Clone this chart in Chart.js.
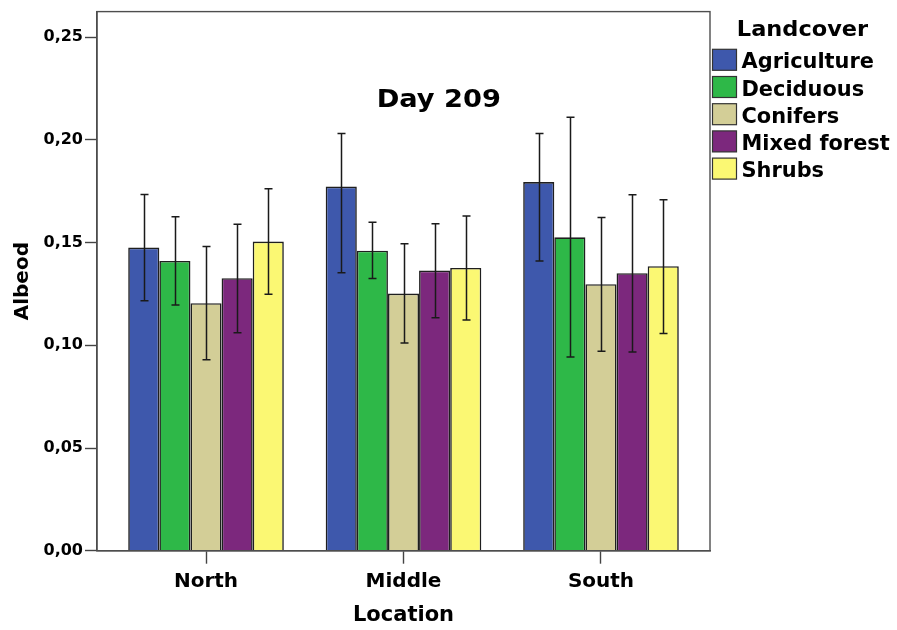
<!DOCTYPE html>
<html>
<head>
<meta charset="utf-8">
<script src="https://cdn.jsdelivr.net/npm/chart.js@4"></script>
<style>
  html, body { margin: 0; padding: 0; background: #ffffff; }
  #wrap { width: 897px; height: 630px; }
</style>
</head>
<body>
<div id="wrap"><canvas id="c" width="897" height="630"></canvas></div>
<script>
// ---------- data ----------
const categories = ['North', 'Middle', 'South'];
const seriesNames = ['Agriculture', 'Deciduous', 'Conifers', 'Mixed forest', 'Shrubs'];
const seriesColors = ['#3e58ac', '#2eb848', '#d3ce97', '#7c287d', '#fbf873'];

const agriculture = [0.1476, 0.1773, 0.1795];
const deciduous   = [0.1411, 0.1461, 0.1526];
const conifers    = [0.1205, 0.1252, 0.1298];
const mixedForest = [0.1327, 0.1364, 0.1351];
const shrubs      = [0.1505, 0.1377, 0.1385];

const agricultureLow  = [0.1217, 0.1354, 0.1411];
const agricultureHigh = [0.1735, 0.2031, 0.2031];
const deciduousLow    = [0.1196, 0.1325, 0.0943];
const deciduousHigh   = [0.1626, 0.1599, 0.2110];
const conifersLow     = [0.0930, 0.1011, 0.0971];
const conifersHigh    = [0.1481, 0.1495, 0.1623];
const mixedForestLow  = [0.1061, 0.1134, 0.0968];
const mixedForestHigh = [0.1589, 0.1592, 0.1733];
const shrubsLow       = [0.1249, 0.1123, 0.1058];
const shrubsHigh      = [0.1762, 0.1630, 0.1709];

const yTickValues = [0, 0.05, 0.10, 0.15, 0.20, 0.25];
const chartTitle = 'Day 209';
const legendTitle = 'Landcover';
const xTitle = 'Location';
const yTitle = 'Albeod';

const seriesValues = [agriculture, deciduous, conifers, mixedForest, shrubs];
const seriesLow = [agricultureLow, deciduousLow, conifersLow, mixedForestLow, shrubsLow];
const seriesHigh = [agricultureHigh, deciduousHigh, conifersHigh, mixedForestHigh, shrubsHigh];

const FONT = "'DejaVu Sans', 'Liberation Sans', sans-serif";

// ---------- plugins ----------
const errorBars = {
  id: 'errorBars',
  afterDatasetsDraw(chart) {
    const ctx = chart.ctx;
    const y = chart.scales.y;
    ctx.save();
    ctx.strokeStyle = '#1a1a1a';
    ctx.lineWidth = 1.5;
    chart.data.datasets.forEach((ds, di) => {
      const meta = chart.getDatasetMeta(di);
      meta.data.forEach((bar, i) => {
        const x = Math.round(bar.x) + 0.5;
        const yt = y.getPixelForValue(seriesHigh[di][i]);
        const yb = y.getPixelForValue(seriesLow[di][i]);
        ctx.beginPath();
        ctx.moveTo(x, yt); ctx.lineTo(x, yb);
        ctx.moveTo(x - 4, yt); ctx.lineTo(x + 4, yt);
        ctx.moveTo(x - 4, yb); ctx.lineTo(x + 4, yb);
        ctx.stroke();
      });
    });
    ctx.restore();
  }
};

const frameAndText = {
  id: 'frameAndText',
  afterDraw(chart) {
    const ctx = chart.ctx;
    const a = chart.chartArea;
    ctx.save();
    // frame
    ctx.strokeStyle = '#4d4d4d';
    ctx.lineWidth = 1.4;
    ctx.strokeRect(a.left, a.top, a.right - a.left, a.bottom - a.top);

    // chart title inside plot
    ctx.fillStyle = '#000';
    ctx.font = "bold 25px " + FONT;
    ctx.textAlign = 'center';
    ctx.textBaseline = 'alphabetic';
    ctx.save();
    ctx.translate(438.8, 106.7);
    ctx.scale(1.09, 1);
    ctx.fillText(chartTitle, 0, 0);
    ctx.restore();

    // legend
    ctx.font = "bold 21px " + FONT;
    ctx.textAlign = 'center';
    ctx.save();
    ctx.translate(802.5, 36);
    ctx.scale(1.07, 1);
    ctx.fillText(legendTitle, 0, 0);
    ctx.restore();

    ctx.font = "bold 20.5px " + FONT;
    ctx.textAlign = 'left';
    chart.data.datasets.forEach((ds, i) => {
      const top = 49.3 + i * 27.2;
      ctx.fillStyle = ds.backgroundColor;
      ctx.fillRect(712.5, top, 24, 21);
      ctx.strokeStyle = '#333';
      ctx.lineWidth = 1.2;
      ctx.strokeRect(712.5, top, 24, 21);
      ctx.fillStyle = '#000';
      ctx.save();
      ctx.translate(741.5, top + 19);
      ctx.scale(1.02, 1);
      ctx.fillText(ds.label, 0, 0);
      ctx.restore();
    });
    ctx.restore();
  }
};

// ---------- chart ----------
const datasets = seriesNames.map((name, i) => ({
  label: name,
  data: seriesValues[i].map((v, j) => ({ x: j, y: v })),
  backgroundColor: seriesColors[i],
  borderColor: '#1f1f1f',
  borderWidth: 1.6,
  barPercentage: 1.0,
  categoryPercentage: 0.788
}));

new Chart(document.getElementById('c'), {
  type: 'bar',
  data: { datasets },
  plugins: [errorBars, frameAndText],
  options: {
    responsive: false,
    devicePixelRatio: 1,
    animation: false,
    layout: { padding: { top: 9.3, right: 187, left: 0, bottom: 0 } },
    plugins: {
      legend: { display: false },
      tooltip: { enabled: false },
      title: { display: false }
    },
    scales: {
      x: {
        type: 'linear',
        offset: false,
        min: -0.552,
        max: 2.552,
        afterBuildTicks(scale) {
          scale.ticks = categories.map((c, i) => ({ value: i }));
        },
        afterFit(scale) { scale.height = 79.3; },
        grid: {
          offset: false,
          drawOnChartArea: false,
          drawTicks: true,
          tickLength: 13,
          tickColor: '#444',
          tickWidth: 1.4
        },
        border: { display: true, color: '#4d4d4d', width: 1.4 },
        ticks: {
          autoSkip: false,
          maxRotation: 0,
          padding: 6,
          color: '#000',
          font: { family: FONT, size: 20, weight: 'bold' },
          callback: (v) => categories[v]
        },
        title: {
          display: true,
          text: xTitle,
          color: '#000',
          font: { family: FONT, size: 21, weight: 'bold' },
          padding: { top: 0, bottom: 2 }
        }
      },
      y: {
        min: 0,
        max: 0.2625,
        afterBuildTicks(scale) {
          scale.ticks = yTickValues.map(v => ({ value: v }));
        },
        afterFit(scale) { scale.width = 97; },
        grid: {
          drawOnChartArea: false,
          drawTicks: true,
          tickLength: 12,
          tickColor: '#444',
          tickWidth: 1.4
        },
        border: { display: true, color: '#4d4d4d', width: 1.4 },
        ticks: {
          padding: 2,
          color: '#000',
          font: { family: FONT, size: 16, weight: 'bold' },
          callback: (v) => v.toFixed(2).replace('.', ',')
        },
        title: {
          display: true,
          text: yTitle,
          color: '#000',
          font: { family: FONT, size: 20, weight: 'bold' },
          padding: { top: 11, bottom: 0 }
        }
      }
    }
  }
});
</script>
</body>
</html>
